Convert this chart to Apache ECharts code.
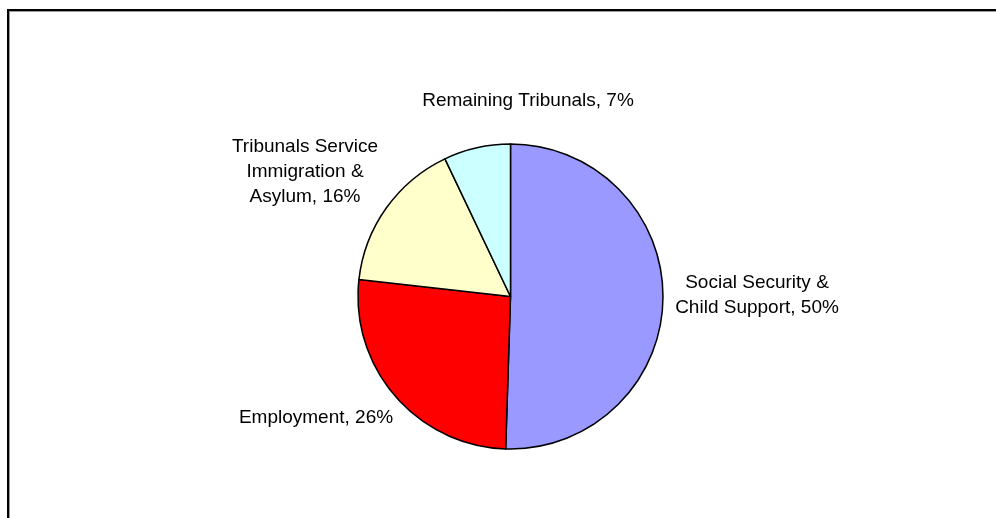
<!DOCTYPE html>
<html>
<head>
<meta charset="utf-8">
<script src="https://cdn.jsdelivr.net/npm/echarts@6/dist/echarts.min.js"></script>
<style>
html,body{margin:0;padding:0;background:#fff;}
#chart{width:996px;height:518px;}
</style>
</head>
<body>
<div id="chart"></div>
<script>
var categories = ['Social Security &\nChild Support', 'Employment', 'Tribunals Service\nImmigration &\nAsylum', 'Remaining Tribunals'];
var values = [50, 26, 16, 7];
var colors = ['#9999FF', '#FF0000', '#FFFFCC', '#CCFFFF'];
var labelPos = [[757, 295], [316, 418], [305, 172], [528, 101]];

var chart = echarts.init(document.getElementById('chart'));
chart.setOption({
  animation: false,
  backgroundColor: '#ffffff',
  graphic: [
    {type: 'line', shape: {x1: 8, y1: 10, x2: 996, y2: 10}, style: {stroke: '#000', lineWidth: 2}},
    {type: 'line', shape: {x1: 9, y1: 11.5, x2: 996, y2: 11.5}, style: {stroke: '#999', lineWidth: 1}},
    {type: 'line', shape: {x1: 8, y1: 9, x2: 8, y2: 518}, style: {stroke: '#000', lineWidth: 2}},
    {type: 'line', shape: {x1: 9.5, y1: 11, x2: 9.5, y2: 518}, style: {stroke: '#999', lineWidth: 1}}
  ],
  series: [{
    type: 'pie',
    center: [510.5, 296.5],
    radius: 152.5,
    startAngle: 90,
    clockwise: true,
    avoidLabelOverlap: false,
    data: categories.map(function (c, i) {
      return {name: c, value: values[i], itemStyle: {color: colors[i]}};
    }),
    itemStyle: {borderColor: '#000', borderWidth: 1.5},
    label: {
      show: true,
      position: 'outside',
      formatter: function (p) { return p.name + ', ' + values[p.dataIndex] + '%'; },
      fontFamily: 'Liberation Sans, Arial, sans-serif',
      fontSize: 19,
      lineHeight: 25,
      color: '#000',
      align: 'center'
    },
    labelLine: {show: false},
    labelLayout: function (params) {
      var p = labelPos[params.dataIndex];
      return {x: p[0], y: p[1], align: 'center', verticalAlign: 'middle'};
    },
    emphasis: {disabled: true}
  }]
});
</script>
</body>
</html>
